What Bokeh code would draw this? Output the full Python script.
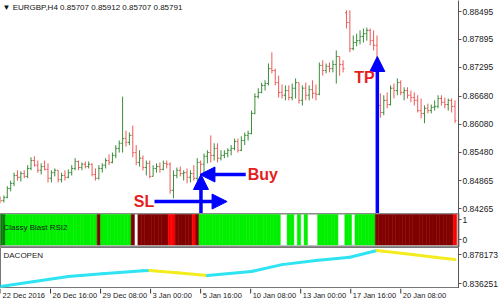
from bokeh.plotting import figure
from bokeh.layouts import column
from bokeh.models import (Range1d, FixedTicker, PrintfTickFormatter, Arrow, NormalHead,
                          Label, ColumnDataSource)
from bokeh.core.properties import value
from bokeh.embed import file_html
from bokeh.resources import INLINE

# ------------------------------------------------------------------ data
symbol = "EURGBP,H4"
last_ohlc = [0.85707, 0.85912, 0.85707, 0.85791]

time_tick_bars = [0, 16, 32, 48, 64, 80, 96, 112, 128]
time_tick_labels = ["22 Dec 2016", "26 Dec 16:00", "29 Dec 08:00", "3 Jan 00:00",
                    "5 Jan 16:00", "10 Jan 08:00", "13 Jan 00:00", "17 Jan 16:00",
                    "20 Jan 08:00"]
price_ticks = [0.88495, 0.87895, 0.87295, 0.86680, 0.86080, 0.85480, 0.84865, 0.84265]
rsi_ticks = [0, 1]
dac_ticks = [0.878173, 0.836251]

opens = [
    .8449, .8444, .8451, .8470, .8481, .8498, .8494, .8502, .8496, .8513,
    .8530, .8520, .8509, .8517, .8511, .8492, .8504, .8509, .8489, .8498,
    .8494, .8504, .8513, .8528, .8515, .8522, .8517, .8522, .8500, .8492,
    .8513, .8520, .8530, .8526, .8541, .8556, .8567, .8577, .8569, .8584,
    .8547, .8526, .8535, .8515, .8524, .8496, .8513, .8517, .8511, .8524,
    .8522, .8466, .8498, .8509, .8502, .8504, .8494, .8502, .8492, .8526,
    .8522, .8539, .8547, .8541, .8556, .8535, .8541, .8545, .8552, .8556,
    .8571, .8552, .8573, .8584, .8588, .8631, .8667, .8676, .8691, .8695,
    .8727, .8723, .8697, .8676, .8670, .8680, .8665, .8685, .8697, .8659,
    .8685, .8670, .8682, .8674, .8672, .8734, .8723, .8732, .8727, .8736,
    .8753, .8736, .8847, .8826, .8770, .8783, .8787, .8796, .8802, .8809,
    .8787, .8777, .8648, .8633, .8659, .8650, .8685, .8680, .8697, .8676,
    .8680, .8670, .8665, .8659, .8637, .8631, .8642, .8637, .8644, .8646,
    .8663, .8655, .8650, .8659, .8646]
highs = [
    .8453, .8455, .8475, .8487, .8504, .8509, .8507, .8509, .8520, .8537,
    .8539, .8530, .8524, .8530, .8524, .8509, .8513, .8509, .8504, .8509,
    .8511, .8520, .8535, .8530, .8526, .8528, .8528, .8524, .8513, .8520,
    .8524, .8535, .8543, .8547, .8563, .8573, .8667, .8594, .8590, .8605,
    .8563, .8552, .8541, .8530, .8530, .8520, .8524, .8526, .8530, .8530,
    .8526, .8509, .8515, .8517, .8509, .8513, .8509, .8520, .8535, .8530,
    .8545, .8552, .8584, .8567, .8567, .8552, .8552, .8556, .8563, .8577,
    .8577, .8582, .8590, .8594, .8637, .8674, .8685, .8697, .8702, .8738,
    .8762, .8727, .8712, .8693, .8691, .8691, .8695, .8706, .8697, .8691,
    .8697, .8691, .8702, .8693, .8740, .8745, .8738, .8740, .8745, .8766,
    .8753, .8745, .8852, .8852, .8798, .8802, .8809, .8813, .8815, .8813,
    .8809, .8798, .8674, .8670, .8676, .8691, .8695, .8706, .8702, .8687,
    .8687, .8680, .8676, .8670, .8663, .8648, .8652, .8650, .8659, .8670,
    .8670, .8665, .8663, .8663, .8659]
lows = [
    .8438, .8440, .8449, .8464, .8475, .8487, .8485, .8492, .8492, .8509,
    .8517, .8504, .8500, .8509, .8483, .8483, .8496, .8483, .8483, .8487,
    .8492, .8498, .8509, .8509, .8509, .8513, .8513, .8496, .8487, .8489,
    .8504, .8513, .8520, .8524, .8535, .8547, .8547, .8560, .8563, .8537,
    .8520, .8517, .8509, .8498, .8492, .8496, .8504, .8504, .8509, .8513,
    .8459, .8449, .8492, .8496, .8487, .8481, .8483, .8487, .8487, .8496,
    .8504, .8524, .8526, .8530, .8526, .8530, .8535, .8537, .8541, .8552,
    .8547, .8550, .8563, .8573, .8586, .8629, .8663, .8674, .8680, .8691,
    .8717, .8691, .8665, .8663, .8659, .8659, .8659, .8663, .8652, .8648,
    .8659, .8659, .8663, .8659, .8670, .8712, .8717, .8719, .8719, .8695,
    .8712, .8719, .8813, .8762, .8766, .8775, .8779, .8783, .8787, .8777,
    .8766, .8627, .8622, .8627, .8642, .8648, .8663, .8670, .8670, .8659,
    .8663, .8655, .8648, .8633, .8620, .8610, .8631, .8631, .8637, .8642,
    .8648, .8642, .8637, .8633, .8610]
closes = [
    .8444, .8451, .8470, .8481, .8498, .8494, .8502, .8496, .8513, .8530,
    .8520, .8509, .8517, .8511, .8492, .8504, .8509, .8489, .8498, .8494,
    .8504, .8513, .8528, .8515, .8522, .8517, .8522, .8500, .8492, .8513,
    .8520, .8530, .8526, .8541, .8556, .8567, .8577, .8569, .8584, .8547,
    .8526, .8535, .8515, .8524, .8496, .8513, .8517, .8511, .8524, .8522,
    .8466, .8498, .8509, .8502, .8504, .8494, .8502, .8492, .8526, .8522,
    .8539, .8547, .8541, .8556, .8535, .8541, .8545, .8552, .8556, .8571,
    .8552, .8573, .8584, .8588, .8631, .8667, .8676, .8691, .8695, .8727,
    .8723, .8697, .8676, .8670, .8680, .8665, .8685, .8697, .8659, .8685,
    .8670, .8682, .8674, .8672, .8734, .8723, .8732, .8727, .8736, .8753,
    .8736, .8727, .8826, .8770, .8783, .8787, .8796, .8802, .8809, .8787,
    .8777, .8648, .8633, .8659, .8650, .8685, .8680, .8697, .8676, .8680,
    .8670, .8665, .8659, .8637, .8631, .8642, .8637, .8644, .8646, .8663,
    .8655, .8650, .8659, .8646, .8616]

# Classy Blast RSI2 histogram state per bar, as runs (state, number of bars)
# D = dark green, G = lime, M = maroon, R = red, W = no bar
rsi_runs = [("D", 2), ("G", 27), ("M", 1), ("G", 9), ("M", 1), ("W", 1), ("M", 9),
            ("R", 2), ("M", 5), ("R", 1), ("M", 1), ("G", 24), ("W", 2), ("G", 2),
            ("W", 1), ("G", 1), ("W", 1), ("G", 1), ("W", 3), ("G", 6), ("W", 2),
            ("G", 2), ("W", 1), ("G", 6), ("M", 23), ("R", 1)]

# DACOPEN line, read at these bars
dac_bars = [0, 10, 20, 30, 42, 44, 52, 61, 74, 83, 93, 103, 111, 113, 122, 128, 134]
dac_vals = [0.8324, 0.8396, 0.8467, 0.8507, 0.8550, 0.8553, 0.8520, 0.8481, 0.8539,
            0.8637, 0.8696, 0.8743, 0.8839, 0.8829, 0.8777, 0.8743, 0.8710]

# trade annotations (bar index, price)
buy_bar, buy_price, buy_tail_bar = 58.8, 0.8500, 72.3
entry_bar = 59.1
sl_price, sl_from_bar, sl_to_bar = 0.8442, 45.4, 66.8
tp_bar, tp_price = 111.1, 0.8753
tp_text_bar, tp_text_price = 104.3, 0.8709

# ------------------------------------------------------------------ style
FONT = "Liberation Sans"
UP, DOWN = "#3A8C3A", "#EE5A5A"
AXIS_C = "#555555"
FRAME_W, RIGHT_W = 461, 39
x_range = Range1d(0, 135.03)


def base_fig(h, y_range):
    p = figure(width=FRAME_W + RIGHT_W, height=h, x_range=x_range, y_range=y_range,
               output_backend="svg", toolbar_location=None,
               min_border_left=0, min_border_right=RIGHT_W, min_border_top=0,
               min_border_bottom=0, x_axis_location=None, y_axis_location="right")
    p.grid.visible = False
    p.outline_line_color = None
    p.background_fill_color = "white"
    p.border_fill_color = "white"
    ya = p.yaxis[0]
    ya.axis_line_color = AXIS_C
    ya.axis_line_width = 1
    ya.major_tick_line_color = AXIS_C
    ya.major_tick_out = 3
    ya.major_tick_in = 0
    ya.minor_tick_line_color = None
    ya.major_label_standoff = 1
    ya.major_label_text_font = FONT
    ya.major_label_text_font_size = "8.5px"
    ya.major_label_text_color = "#1a1a1a"
    return p


# ------------------------------------------------------------------ main chart
p1 = base_fig(213, Range1d(0.84164, 0.88731))
p1.yaxis[0].ticker = FixedTicker(ticks=price_ticks)
p1.yaxis[0].formatter = PrintfTickFormatter(format="%.5f")

n = len(closes)
idx = list(range(n))
colors = [UP if c >= o else DOWN for o, c in zip(opens, closes)]
src = ColumnDataSource(dict(
    x=idx, xl=[i - 0.42 for i in idx], xr=[i + 0.42 for i in idx],
    o=opens, h=highs, l=lows, c=closes, color=colors))
p1.segment(x0="x", y0="l", x1="x", y1="h", color="color", line_width=1, source=src)
p1.segment(x0="xl", y0="o", x1="x", y1="o", color="color", line_width=1, source=src)
p1.segment(x0="x", y0="c", x1="xr", y1="c", color="color", line_width=1, source=src)

BLUE = "#0000FF"
RED_T = "#E41E1E"


def head():
    return NormalHead(size=15, fill_color=BLUE, line_color=BLUE, line_width=1)


y0 = p1.y_range.start
p1.add_layout(Arrow(end=head(), x_start=buy_tail_bar, y_start=buy_price,
                    x_end=buy_bar, y_end=buy_price, line_color=BLUE, line_width=3.5))
p1.add_layout(Arrow(end=head(), x_start=entry_bar, y_start=y0,
                    x_end=entry_bar, y_end=buy_price, line_color=BLUE, line_width=3.5))
p1.add_layout(Arrow(end=head(), x_start=sl_from_bar, y_start=sl_price,
                    x_end=sl_to_bar, y_end=sl_price, line_color=BLUE, line_width=3.5))
p1.add_layout(Arrow(end=head(), x_start=tp_bar, y_start=y0,
                    x_end=tp_bar, y_end=tp_price, line_color=BLUE, line_width=3.5))

for txt, xb, yp, al in [("Buy", buy_tail_bar + 0.6, buy_price, "left"),
                        ("SL", sl_from_bar - 0.1, sl_price, "right"),
                        ("TP", tp_text_bar, tp_text_price, "left")]:
    p1.add_layout(Label(x=xb, y=yp, text=txt, text_align=al, text_baseline="middle",
                        text_font=FONT, text_font_style="bold", text_font_size="16px",
                        text_color=RED_T))

o, h, l, c = last_ohlc
p1.add_layout(Label(x=2, y=206, x_units="screen", y_units="screen",
                    text="\u25BC " + symbol + "  " + " ".join("%.5f" % v for v in last_ohlc),
                    text_font=FONT, text_font_size="8px", text_color="#111111",
                    text_baseline="middle"))
p1.add_layout(Label(x=462, x_units="screen", y=c, y_units="data", text="%.5f" % c,
                    text_font=FONT, text_font_size="8.5px", text_color="white",
                    background_fill_color="black", text_baseline="middle",
                    padding=1))

# ------------------------------------------------------------------ Classy Blast RSI2
p2 = base_fig(34, Range1d(-0.4, 1.3))
p2.yaxis[0].ticker = FixedTicker(ticks=rsi_ticks)
p2.outline_line_color = "#8c8c8c"
p2.outline_line_width = 2
state_color = {"D": "#008000", "G": "#00F000", "M": "#800000", "R": "#FF0000"}
hx, hc = [], []
k = 0
for st, cnt in rsi_runs:
    for _ in range(cnt):
        if st in state_color:
            hx.append(k)
            hc.append(state_color[st])
        k += 1
p2.vbar(x=hx, width=1.0, bottom=-0.27, top=1.25, fill_color=hc, line_color=hc,
        line_width=0.5)
p2.add_layout(Label(x=3, y=20, x_units="screen", y_units="screen",
                    text="Classy Blast RSI2", text_font=FONT, text_font_size="8px",
                    text_color="#1a1a1a", text_baseline="middle"))

# ------------------------------------------------------------------ DACOPEN
p3 = base_fig(41, Range1d(0.82953, 0.88819))
p3.yaxis[0].ticker = FixedTicker(ticks=dac_ticks)
p3.yaxis[0].formatter = PrintfTickFormatter(format="%.6f")
p3.outline_line_color = "#777777"
p3.outline_line_width = 1

CYAN, YELLOW = "#2EE3F2", "#F4EC1E"
xs, ys, cs = [], [], []
for a in range(len(dac_bars) - 1):
    xs.append([dac_bars[a], dac_bars[a + 1]])
    ys.append([dac_vals[a], dac_vals[a + 1]])
    cs.append(CYAN if dac_vals[a + 1] >= dac_vals[a] else YELLOW)
p3.multi_line(xs=xs, ys=ys, line_color=cs, line_width=3, line_cap="round")
p3.add_layout(Label(x=3, y=33, x_units="screen", y_units="screen", text="DACOPEN",
                    text_font=FONT, text_font_size="8px", text_color="#1a1a1a",
                    text_baseline="middle"))

# ------------------------------------------------------------------ time scale strip
# full-width strip whose x scale continues the chart's bar scale past the price axis
p4 = figure(width=FRAME_W + RIGHT_W, height=20,
            x_range=Range1d(0, x_range.end * (FRAME_W + RIGHT_W) / FRAME_W),
            y_range=Range1d(0, 20), output_backend="svg", toolbar_location=None,
            min_border=0, x_axis_location=None, y_axis_location=None)
p4.grid.visible = False
p4.outline_line_color = None
p4.background_fill_color = "white"
p4.border_fill_color = "white"
p4.segment(x0=time_tick_bars, y0=[20] * len(time_tick_bars),
           x1=time_tick_bars, y1=[15] * len(time_tick_bars),
           line_color="#333333", line_width=1)
p4.text(x=time_tick_bars, y=[18] * len(time_tick_bars), text=time_tick_labels,
        x_offset=2, text_align="left", text_baseline="top",
        text_font=value(FONT), text_font_size="7.5px", text_color="#1a1a1a")

layout = column(p1, p2, p3, p4, spacing=0)
open("out.html", "w").write(file_html(layout, INLINE))
